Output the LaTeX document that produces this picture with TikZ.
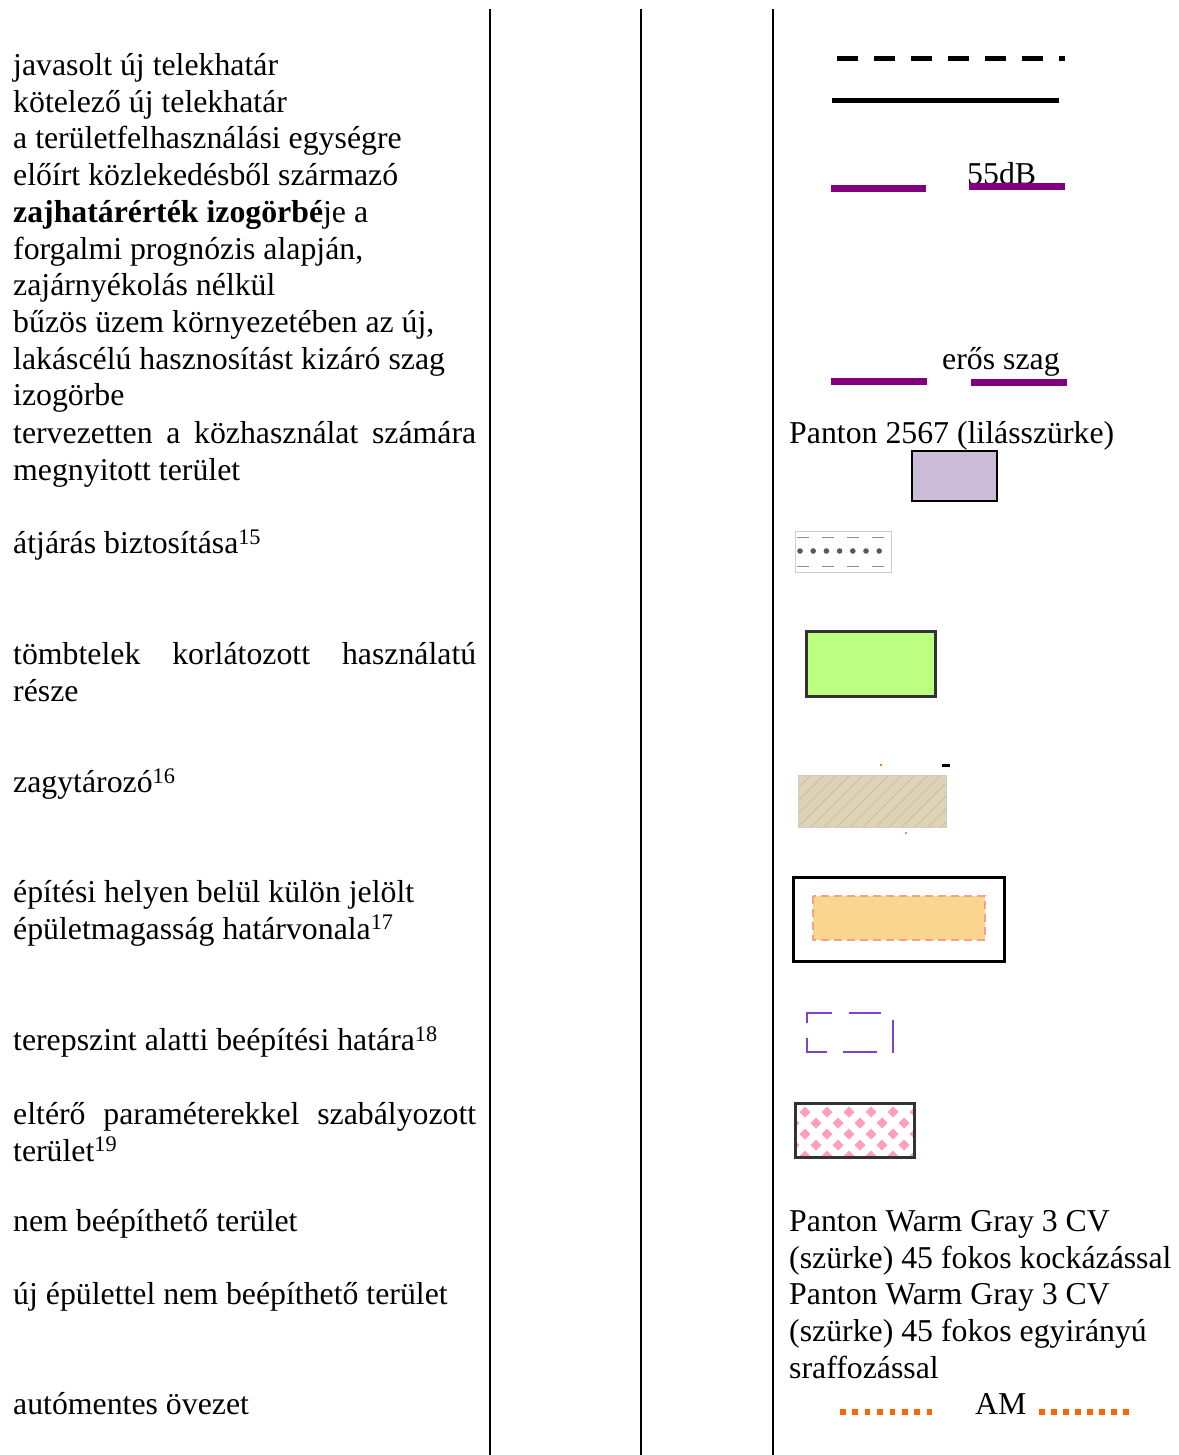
\documentclass[tikz,border=0pt]{standalone}
\usepackage{fontspec}
\setmainfont{Liberation Serif}
\usetikzlibrary{positioning}

\definecolor{zajlila}{HTML}{800080}
\definecolor{lilaszurke}{HTML}{CBBCD8}
\definecolor{tombzold}{HTML}{BDFF80}
\definecolor{zagybarna}{HTML}{DDD3B7}
\definecolor{zagyvonal}{HTML}{C9BC98}
\definecolor{epitsarga}{HTML}{FAD58F}
\definecolor{epitkeret}{HTML}{F6A183}
\definecolor{terepibolya}{HTML}{8040D0}
\definecolor{elterrozsa}{HTML}{FF9EBE}
\definecolor{amnarancs}{HTML}{FF6600}

\newcommand{\sorkizart}[1]{\makebox[463pt][s]{#1}}

\begin{document}
\begin{tikzpicture}[x=1pt, y=-1pt,
    every node/.style={font=\fontsize{31.8}{36.7}\selectfont, inner sep=0pt, anchor=base west, align=left},
    oszlop/.style={line width=1.5pt},
    keret/.style={draw=black!80, line width=3pt}]
    \useasboundingbox (0,0) rectangle (1178,1455);

    % oszlopvonalak
    \draw[oszlop] (490,9) -- (490,1455);
    \draw[oszlop] (641,9) -- (641,1455);
    \draw[oszlop] (773,9) -- (773,1455);

    % bal oszlop: magyarazatok (tobbsoros csomopont: az utolso sor alapvonala)
    \node (jav) at (13,75.5) {javasolt új telekhatár};
    \node (kot) at (13,112.2) {kötelező új telekhatár};
    \node (zaj) at (13,295.7) {a területfelhasználási egységre\\előírt közlekedésből származó\\\textbf{zajhatárérték izogörbé}je a\\forgalmi prognózis alapján,\\zajárnyékolás nélkül};
    \node (buz) at (13,405.9) {bűzös üzem környezetében az új,\\lakáscélú hasznosítást kizáró szag\\izogörbe};
    \node (kozh) at (13,480) {\sorkizart{tervezetten a közhasználat számára}\\megnyitott terület};
    \node (atj) at (13,553.5) {átjárás biztosítása\textsuperscript{15}};
    \node (tomb) at (13,701) {\sorkizart{tömbtelek korlátozott használatú}\\része};
    \node (zagy) at (13,792.5) {zagytározó\textsuperscript{16}};
    \node (epit) at (13,939) {építési helyen belül külön jelölt\\épületmagasság határvonala\textsuperscript{17}};
    \node (tere) at (13,1050.5) {terepszint alatti beépítési határa\textsuperscript{18}};
    \node (elt) at (13,1161) {\sorkizart{eltérő paraméterekkel szabályozott}\\terület\textsuperscript{19}};
    \node (nemb) at (13,1231.5) {nem beépíthető terület};
    \node (ujep) at (13,1304.5) {új épülettel nem beépíthető terület};
    \node (autom) at (13,1414.5) {autómentes övezet};

    % jobb oszlop: jelek
    \draw[line width=5pt, dash pattern=on 21pt off 16pt] (837,59) -- (1065,59);
    \draw[line width=5pt] (832,101) -- (1059,101);

    \node (db) at (967,184.5) {55dB};
    \draw[zajlila, line width=7pt] (831,189) -- (926,189);
    \draw[zajlila, line width=7pt] (969,187) -- (1065,187);

    \node (szag) at (942,369.5) {erős szag};
    \draw[zajlila, line width=7pt] (831,381) -- (927,381);
    \draw[zajlila, line width=7pt] (971,382) -- (1067,382);

    \node (panton) at (789,443.5) {Panton 2567 (lilásszürke)};
    \draw[fill=lilaszurke, line width=2pt] (912,451) rectangle (997,501);

    % atjaras
    \draw[black!20, line width=1pt] (795,531) rectangle (891,572);
    \draw[black!45, line width=1pt, dash pattern=on 12pt off 13pt] (797,537) -- (890,537);
    \draw[black!45, line width=1pt, dash pattern=on 12pt off 13pt] (797,566) -- (890,566);
    \foreach \i in {0,...,6}
        \fill[black!65] (800+13.2*\i,551) circle (2.8pt);

    \draw[keret, fill=tombzold] (806,631) rectangle (935,696);

    % zagytarozo
    \fill[zagybarna] (798,775) rectangle (946,827);
    \begin{scope}
        \clip (798,775) rectangle (946,827);
        \foreach \k in {0,...,16}
            \draw[zagyvonal, line width=0.7pt] (746+13*\k,827) -- ++(52,-52);
    \end{scope}
    \draw[black!20, line width=1pt] (798,775) rectangle (946,827);
    \fill[orange] (880,764) rectangle (882,766);
    \fill[black] (942,764) rectangle (950,766.5);
    \fill[blue!40] (905,832) rectangle (907,834);

    % epitesi hely
    \draw[draw=black, line width=3pt] (793,877) rectangle (1004,961);
    \draw[fill=epitsarga, draw=epitkeret, line width=2pt, dash pattern=on 8pt off 5pt] (813,896) rectangle (985,940);

    % terepszint alatti
    \begin{scope}[terepibolya, line width=2.7pt]
        \draw (807,1023) -- (807,1013) -- (832,1013);
        \draw (849,1013) -- (881,1013);
        \draw (893,1020) -- (893,1053);
        \draw (807,1038) -- (807,1052) -- (827,1052);
        \draw (843,1052) -- (877,1052);
    \end{scope}

    % eltero parameterek
    \begin{scope}
        \clip (795,1103) rectangle (914,1157);
        \foreach \r in {0,...,4}
            \foreach \c in {-1,...,5} {
                \pgfmathsetmacro{\px}{805+22*\c+11*mod(\r,2)}
                \pgfmathsetmacro{\py}{1112+11*\r}
                \fill[elterrozsa] (\px,\py) +(0,-5.5) -- +(5.5,0) -- +(0,5.5) -- +(-5.5,0) -- cycle;
            }
    \end{scope}
    \draw[keret] (795,1103) rectangle (914,1157);

    \node (warm) at (789,1378.3) {Panton Warm Gray 3 CV\\(szürke) 45 fokos kockázással\\Panton Warm Gray 3 CV\\(szürke) 45 fokos egyirányú\\sraffozással};

    % automentes
    \node (am) at (975,1414.5) {AM};
    \foreach \i in {0,...,7} {
        \fill[amnarancs] (840+12.4*\i,1409) rectangle ++(5.5,6);
        \fill[amnarancs] (1039+12*\i,1409) rectangle ++(5.5,6);
    }
\end{tikzpicture}
\end{document}
